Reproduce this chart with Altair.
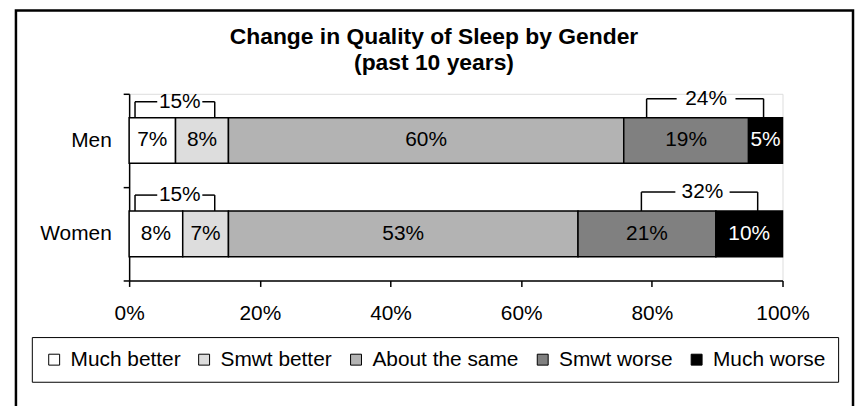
import altair as alt
import pandas as pd

# ---------------- data ----------------
genders = ["Men", "Women"]
categories = ["Much better", "Smwt better", "About the same", "Smwt worse", "Much worse"]
men_values = [7.1, 8.1, 60.5, 19.1, 5.2]
women_values = [8.2, 7.0, 53.5, 21.1, 10.2]
men_labels = ["7%", "8%", "60%", "19%", "5%"]
women_labels = ["8%", "7%", "53%", "21%", "10%"]

bracket_gender = ["Men", "Men", "Women", "Women"]
bracket_side = ["left", "right", "left", "right"]
bracket_text = ["15%", "24%", "15%", "32%"]
bracket_start = [0.9, 79.2, 0.9, 78.4]
bracket_gap_start = [4.3, 83.8, 4.3, 83.6]
bracket_gap_end = [11.2, 92.8, 11.2, 91.9]
bracket_end = [13.1, 97.1, 13.1, 96.2]

x_ticks = [0, 20, 40, 60, 80, 100]

# ---------------- styles ----------------
fill_colors = ["#ffffff", "#dddddd", "#b3b3b3", "#808080", "#000000"]
text_colors = ["black", "black", "black", "black", "white"]
FONT = "Liberation Sans"
BAR_H = 46
HALF = BAR_H / 2
LIFT = {"left": 16, "right": 19}

rows = []
for g, vals, labs in [("Men", men_values, men_labels), ("Women", women_values, women_labels)]:
    s = 0.0
    for i, (c, v, l) in enumerate(zip(categories, vals, labs)):
        rows.append({"gender": g, "category": c, "order": i, "start": s, "end": s + v,
                     "mid": s + v / 2, "label": l, "tcolor": text_colors[i]})
        s += v
seg = pd.DataFrame(rows)

br = pd.DataFrame({"gender": bracket_gender, "side": bracket_side, "text": bracket_text,
                   "start": bracket_start, "gap_start": bracket_gap_start,
                   "gap_end": bracket_gap_end, "end": bracket_end})
br["center"] = (br["gap_start"] + br["gap_end"]) / 2
legs = br.melt(id_vars=["gender", "side"], value_vars=["start", "end"], value_name="x")

xscale = alt.Scale(domain=[0, 100], nice=False)
yscale = alt.Scale(domain=genders, paddingInner=0, paddingOuter=0)

x_axis = alt.Axis(values=x_ticks, labelExpr="datum.value + '%'", title=None, grid=False,
                  domainColor="black", domainWidth=1.5, tickColor="black", tickWidth=1.5,
                  tickSize=6, labelFontSize=21, labelColor="black", labelPadding=16,
                  labelFont=FONT, labelFlush=False)
y_axis = alt.Axis(title=None, tickBand="extent", domainColor="black", domainWidth=1.5,
                  tickColor="black", tickWidth=1.5, tickSize=6, labelFontSize=21,
                  labelColor="black", labelPadding=12, labelFont=FONT)

bars = alt.Chart(seg).mark_bar(size=BAR_H, stroke="black", strokeWidth=1.5).encode(
    x=alt.X("start:Q", scale=xscale, axis=x_axis),
    x2="end:Q",
    y=alt.Y("gender:N", scale=yscale, axis=y_axis, sort=genders),
    color=alt.Color("category:N", sort=categories,
                    scale=alt.Scale(domain=categories, range=fill_colors),
                    legend=alt.Legend(orient="none", legendX=-98, legendY=245,
                                      direction="horizontal", title=None,
                                      labelFontSize=21, labelFont=FONT, labelColor="black",
                                      symbolType="square", symbolSize=121,
                                      symbolStrokeColor="black", symbolStrokeWidth=1,
                                      strokeColor="black", fillColor="white",
                                      padding=12, columnPadding=13, labelOffset=6)),
    order=alt.Order("order:Q"),
)

labels = alt.Chart(seg).mark_text(fontSize=21, font=FONT, baseline="middle").encode(
    x=alt.X("mid:Q", scale=xscale),
    y=alt.Y("gender:N", scale=yscale, sort=genders),
    text="label:N",
    color=alt.Color("tcolor:N", scale=None),
)

layers = [bars, labels]
for side, lift in LIFT.items():
    top = -(HALF + lift)
    base = alt.Chart(br).transform_filter(alt.datum.side == side)
    layers.append(base.mark_rule(color="black", strokeWidth=1.5, yOffset=top).encode(
        x=alt.X("start:Q", scale=xscale), x2="gap_start:Q",
        y=alt.Y("gender:N", scale=yscale, sort=genders)))
    layers.append(base.mark_rule(color="black", strokeWidth=1.5, yOffset=top).encode(
        x=alt.X("gap_end:Q", scale=xscale), x2="end:Q",
        y=alt.Y("gender:N", scale=yscale, sort=genders)))
    layers.append(alt.Chart(legs).transform_filter(alt.datum.side == side).mark_tick(
        orient="vertical", size=lift, thickness=1.5, color="black", opacity=1,
        yOffset=-(HALF + lift / 2)).encode(
        x=alt.X("x:Q", scale=xscale),
        y=alt.Y("gender:N", scale=yscale, sort=genders)))
    layers.append(base.mark_text(fontSize=21, font=FONT, baseline="middle", color="black",
                                 yOffset=top).encode(
        x=alt.X("center:Q", scale=xscale),
        y=alt.Y("gender:N", scale=yscale, sort=genders),
        text="text:N"))

frame = alt.Chart(pd.DataFrame({"frame": [1]})).mark_rect(
    fillOpacity=0, stroke="black", strokeWidth=2.5).encode(
    x=alt.value(-114), x2=alt.value(729), y=alt.value(-84), y2=alt.value(330))
layers.append(frame)

chart = alt.layer(*layers).properties(
    width=658, height=188,
    autosize=alt.AutoSizeParams(type="none"),
    padding={"left": 122, "top": 85, "right": 73, "bottom": 125},
    title=alt.TitleParams(["Change in Quality of Sleep by Gender", "(past 10 years)"],
                          fontSize=23, font=FONT, fontWeight="bold", color="black",
                          anchor="middle", frame="group", dx=-22, offset=-89,
                          baseline="bottom", lineHeight=26),
).configure_view(strokeWidth=0).configure(font=FONT)

chart.save("out.html", embed_options={"renderer": "svg", "actions": False})
